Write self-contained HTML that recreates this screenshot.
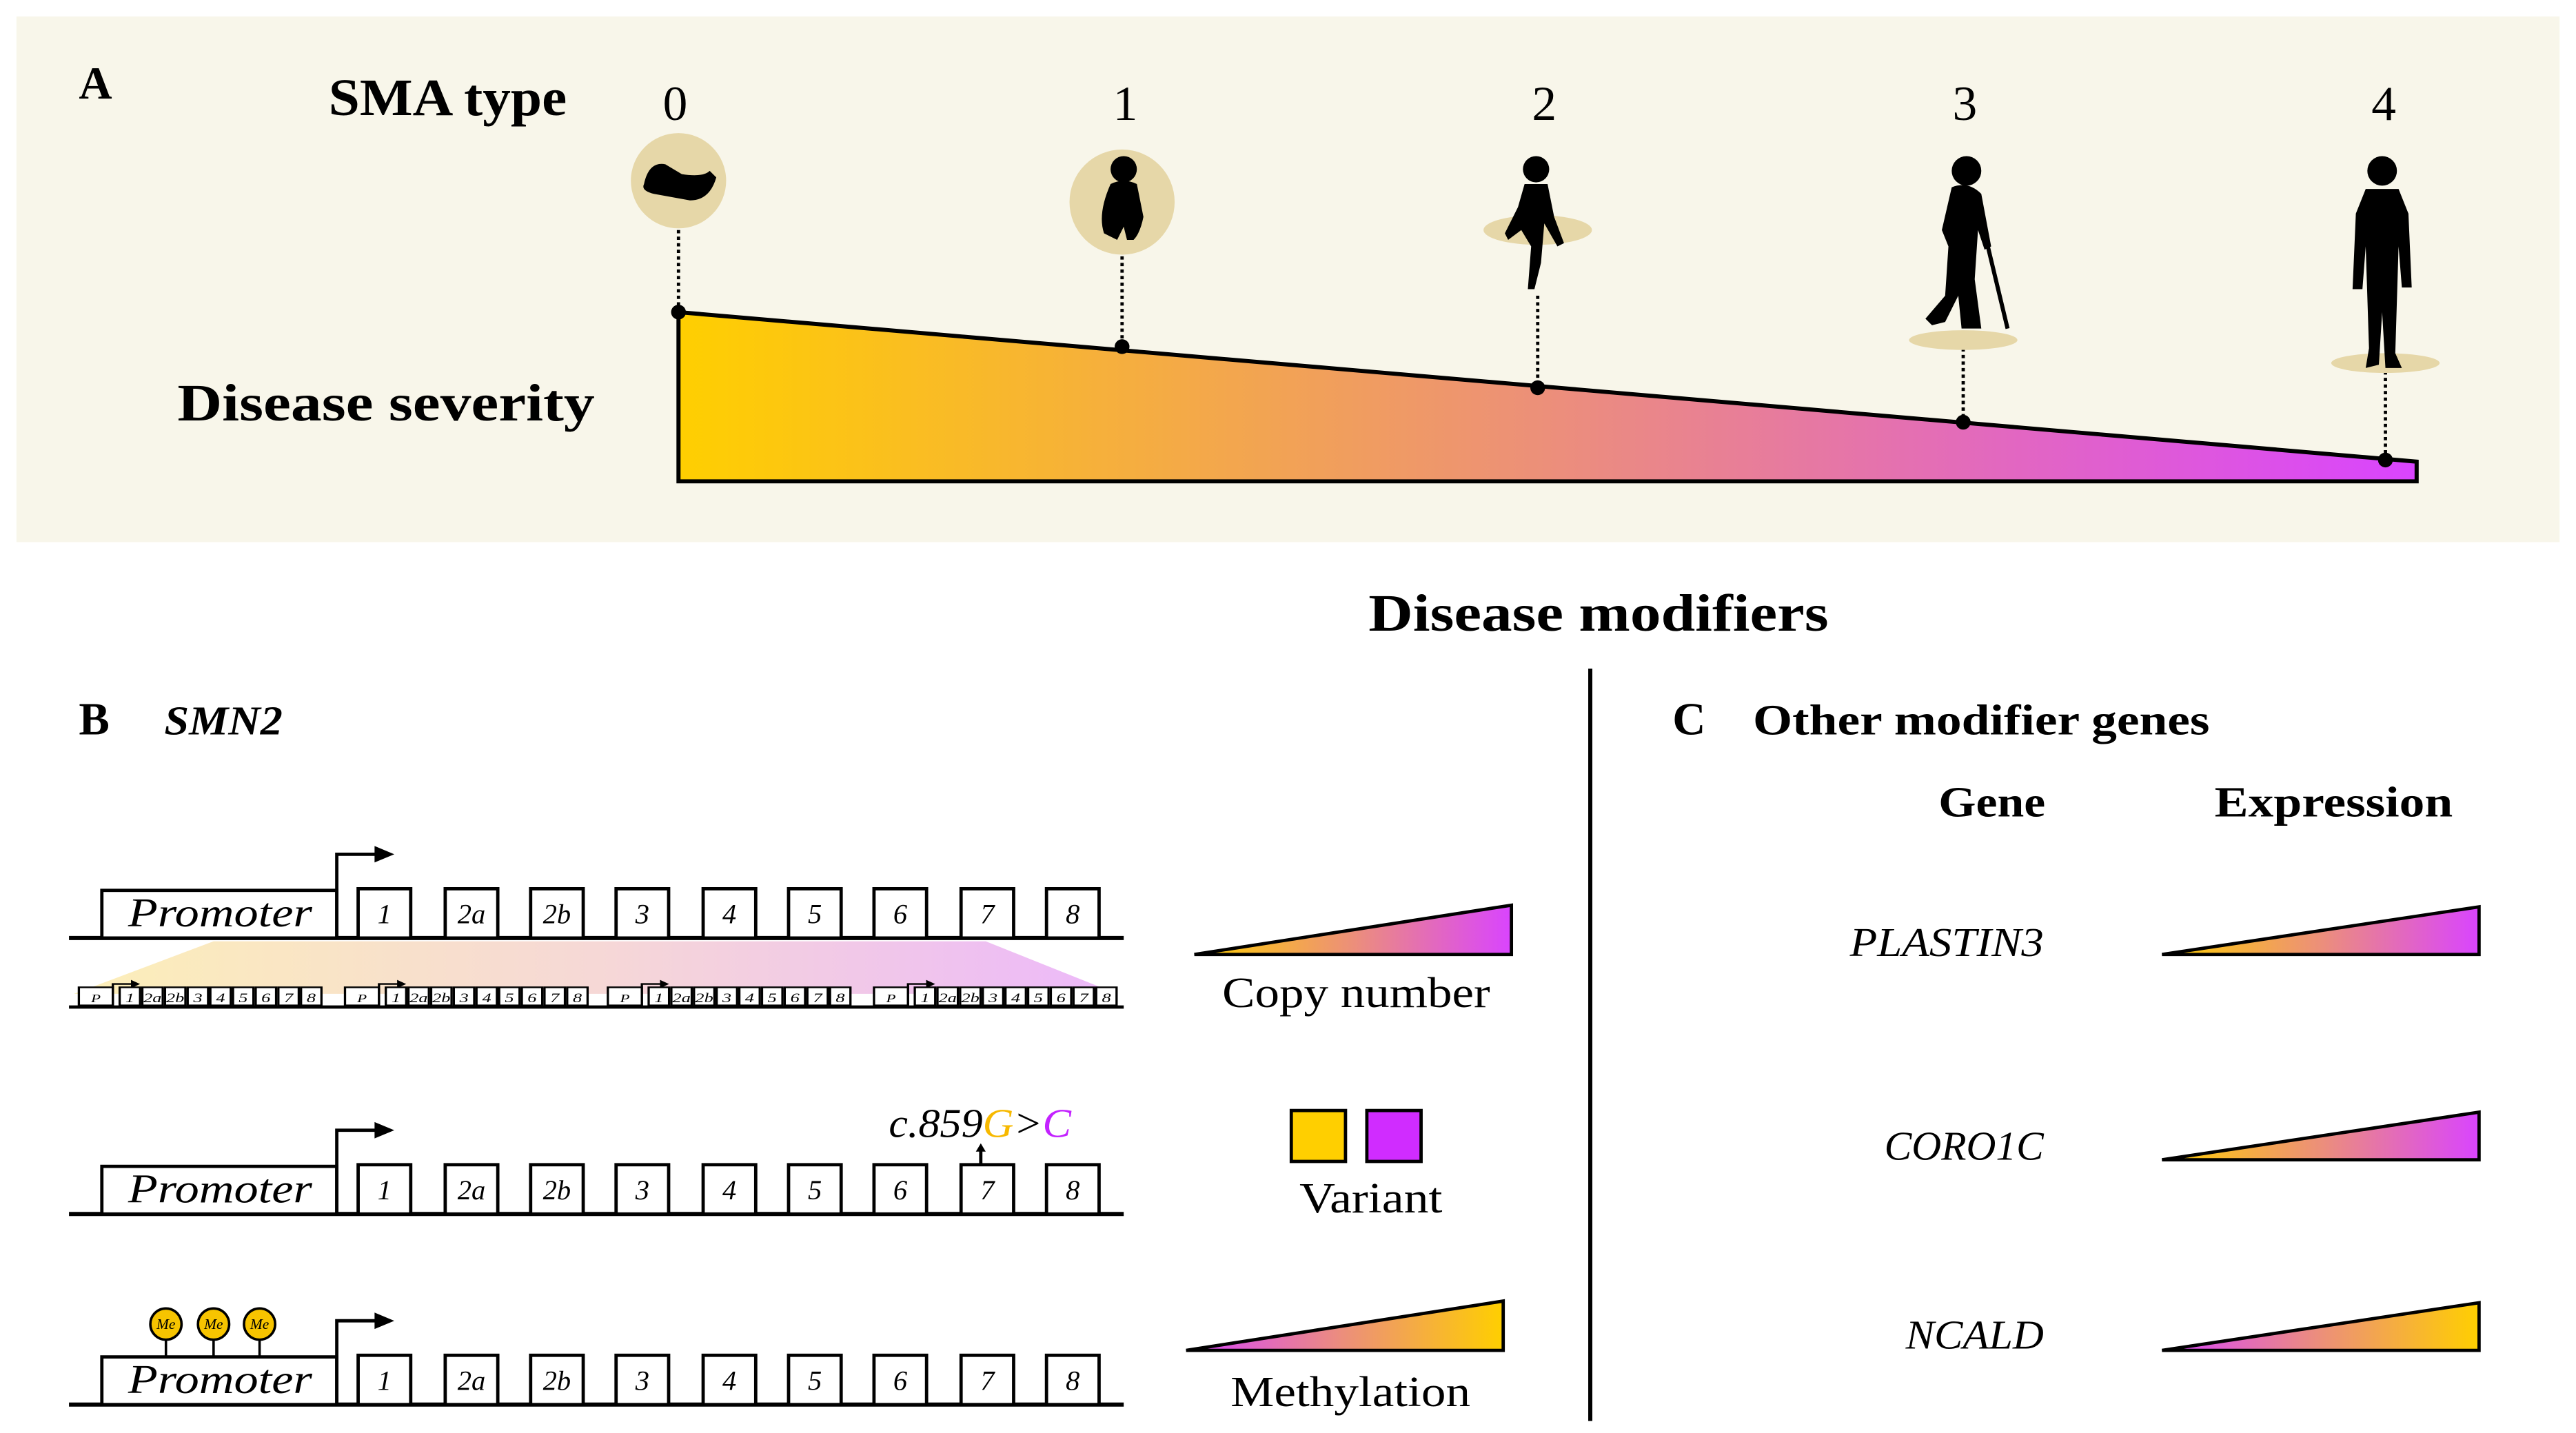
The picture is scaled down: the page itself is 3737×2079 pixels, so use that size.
<!DOCTYPE html>
<html><head><meta charset="utf-8"><style>html,body{margin:0;padding:0;background:#fff}svg{display:block}</style></head>
<body>
<svg width="3737" height="2079" viewBox="0 0 1568 872.3" xmlns="http://www.w3.org/2000/svg" font-family="'Liberation Serif', 'DejaVu Serif', serif">
<defs>
<linearGradient id="gm" x1="0" x2="1" y1="0" y2="0"><stop offset="0" stop-color="#ffcf00"/><stop offset="0.5" stop-color="#ec8f7a"/><stop offset="1" stop-color="#d944ff"/></linearGradient>
<linearGradient id="mg" x1="0" x2="1" y1="0" y2="0"><stop offset="0" stop-color="#d944ff"/><stop offset="0.5" stop-color="#ec8f7a"/><stop offset="1" stop-color="#ffcf00"/></linearGradient>
<linearGradient id="pale" x1="0" x2="1" y1="0" y2="0"><stop offset="0" stop-color="#fcefb8"/><stop offset="0.5" stop-color="#f6d8d6"/><stop offset="1" stop-color="#ecb8fa"/></linearGradient>
<g id="gene">
<line x1="42" y1="29" x2="684" y2="29" stroke="#000" stroke-width="2.5"/>
<rect x="62" y="0" width="143" height="29" fill="#fff" stroke="#000" stroke-width="2"/>
<text x="78" y="22" font-size="25" font-style="italic" textLength="112" lengthAdjust="spacingAndGlyphs">Promoter</text>
<path d="M205,29 V-22 H230" fill="none" stroke="#000" stroke-width="2"/>
<path d="M228,-27 L240,-22 L228,-17 Z" fill="#000"/>
<g fill="#fff" stroke="#000" stroke-width="2">
<rect x="218" y="-1" width="32" height="30"/><rect x="271" y="-1" width="32" height="30"/><rect x="323" y="-1" width="32" height="30"/><rect x="375" y="-1" width="32" height="30"/><rect x="428" y="-1" width="32" height="30"/><rect x="480" y="-1" width="32" height="30"/><rect x="532" y="-1" width="32" height="30"/><rect x="585" y="-1" width="32" height="30"/><rect x="637" y="-1" width="32" height="30"/>
</g>
<g font-size="17" font-style="italic" text-anchor="middle">
<text x="234" y="20">1</text><text x="287" y="20">2a</text><text x="339" y="20">2b</text><text x="391" y="20">3</text><text x="444" y="20">4</text><text x="496" y="20">5</text><text x="548" y="20">6</text><text x="601" y="20">7</text><text x="653" y="20">8</text>
</g>
</g>
<g id="mini">
<rect x="0" y="0" width="15" height="11" fill="#fff" stroke="#000" stroke-width="1"/>
<text x="7.5" y="9" font-size="7" font-style="italic" text-anchor="middle">P</text>
<path d="M15,11 V-2 H24" fill="none" stroke="#000" stroke-width="1"/><path d="M23,-4.5 L27,-2 L23,0.5Z"/>
<g fill="#fff" stroke="#000" stroke-width="1">
<rect x="18" y="0" width="9" height="11"/><rect x="28" y="0" width="9" height="11"/><rect x="38" y="0" width="9" height="11"/><rect x="48" y="0" width="9" height="11"/><rect x="58" y="0" width="9" height="11"/><rect x="68" y="0" width="9" height="11"/><rect x="78" y="0" width="9" height="11"/><rect x="88" y="0" width="9" height="11"/><rect x="98" y="0" width="9" height="11"/>
</g>
<g font-size="8" font-style="italic" text-anchor="middle">
<text x="22.5" y="9">1</text><text x="32.5" y="9">2a</text><text x="42.5" y="9">2b</text><text x="52.5" y="9">3</text><text x="62.5" y="9">4</text><text x="72.5" y="9">5</text><text x="82.5" y="9">6</text><text x="92.5" y="9">7</text><text x="102.5" y="9">8</text>
</g>
</g>
</defs>

<rect x="10" y="10" width="1548" height="320" fill="#f8f6ea"/>
<text x="48" y="60" font-size="28" font-weight="bold">A</text>
<text x="200" y="70" font-size="32" font-weight="bold" textLength="145" lengthAdjust="spacingAndGlyphs">SMA type</text>
<g font-size="30" text-anchor="middle"><text x="411" y="73">0</text><text x="685" y="73">1</text><text x="940" y="73">2</text><text x="1196" y="73">3</text><text x="1451" y="73">4</text></g>
<text x="108" y="256" font-size="32" font-weight="bold" textLength="254" lengthAdjust="spacingAndGlyphs">Disease severity</text>
<polygon points="413,190 1471,281 1471,293 413,293" fill="url(#gm)" stroke="#000" stroke-width="2.5"/>
<g stroke="#000" stroke-width="2" stroke-dasharray="2,2">
<line x1="413" y1="140" x2="413" y2="190"/><line x1="683" y1="152" x2="683" y2="211"/><line x1="936" y1="180" x2="936" y2="236"/><line x1="1195" y1="212" x2="1195" y2="257"/><line x1="1452" y1="226" x2="1452" y2="280"/>
</g>
<g fill="#000"><circle cx="413" cy="190" r="4.5"/><circle cx="683" cy="211" r="4.5"/><circle cx="936" cy="236" r="4.5"/><circle cx="1195" cy="257" r="4.5"/><circle cx="1452" cy="280" r="4.5"/></g>
<g fill="#e6d7a8">
<circle cx="413" cy="110" r="29"/><circle cx="683" cy="123" r="32"/>
<ellipse cx="936" cy="140" rx="33" ry="9"/><ellipse cx="1195" cy="207" rx="33" ry="6"/><ellipse cx="1452" cy="221" rx="33" ry="6"/>
</g>
<g fill="#000">
<path d="M392,112 Q395,98 405,100 L415,106 Q428,108 432,104 L436,108 Q432,122 420,122 L398,118 Q390,116 392,112Z"/>
<circle cx="684" cy="103" r="8"/><path d="M676,112 Q684,108 692,112 L696,132 Q694,142 690,146 L686,146 L684,138 L680,146 L672,142 Q668,130 676,112Z"/>
<circle cx="935" cy="103" r="8"/><path d="M928,112 L942,112 L946,132 L952,148 L948,150 L940,136 L938,160 L934,176 L930,176 L932,150 L926,140 L918,146 L916,142 L924,126Z"/>
<circle cx="1197" cy="104" r="9"/><path d="M1188,114 Q1198,110 1206,118 L1212,150 L1208,152 L1204,140 L1202,170 L1206,200 L1194,200 L1192,180 L1184,196 L1176,198 L1172,194 L1184,180 L1186,150 L1182,140Z"/>
<path d="M1210,150 L1222,200" stroke="#000" stroke-width="2.5"/>
<circle cx="1450" cy="104" r="9"/><path d="M1440,115 L1460,115 L1466,130 L1468,175 L1462,175 L1460,150 L1458,215 L1462,224 L1452,224 L1450,190 L1448,222 L1440,224 L1442,212 L1440,150 L1438,176 L1432,176 L1434,130Z"/>
</g>

<text x="833" y="384" font-size="32" font-weight="bold" textLength="280" lengthAdjust="spacingAndGlyphs">Disease modifiers</text>
<line x1="968" y1="407" x2="968" y2="865" stroke="#000" stroke-width="2.5"/>

<text x="48" y="447" font-size="28" font-weight="bold">B</text>
<text x="100" y="447" font-size="25" font-weight="bold" font-style="italic" textLength="72" lengthAdjust="spacingAndGlyphs">SMN2</text>
<use href="#gene" x="0" y="542"/>
<polygon points="130,573 600,573 680,605 45,605" fill="url(#pale)"/>
<line x1="42" y1="613" x2="684" y2="613" stroke="#000" stroke-width="2"/>
<use href="#mini" transform="translate(48,601) scale(1.38,1)"/><use href="#mini" transform="translate(210,601) scale(1.38,1)"/><use href="#mini" transform="translate(370,601) scale(1.38,1)"/><use href="#mini" transform="translate(532,601) scale(1.38,1)"/>
<use href="#gene" x="0" y="710"/>
<text x="541" y="692" font-size="25" font-style="italic" textLength="111" lengthAdjust="spacingAndGlyphs">c.859<tspan fill="#f7b900">G</tspan>&gt;<tspan fill="#c322ff">C</tspan></text>
<line x1="597" y1="709" x2="597" y2="700" stroke="#000" stroke-width="2"/><path d="M594,701 L597,696 L600,701Z"/>
<use href="#gene" x="0" y="826"/>
<g stroke="#000" stroke-width="1.5"><line x1="101" y1="815" x2="101" y2="826"/><line x1="130" y1="815" x2="130" y2="826"/><line x1="158" y1="815" x2="158" y2="826"/></g>
<g fill="#f7c400" stroke="#000" stroke-width="1.5"><circle cx="101" cy="806" r="9.5"/><circle cx="130" cy="806" r="9.5"/><circle cx="158" cy="806" r="9.5"/></g>
<g font-size="9" font-style="italic" text-anchor="middle"><text x="101" y="809">Me</text><text x="130" y="809">Me</text><text x="158" y="809">Me</text></g>

<polygon points="727,581 920,551 920,581" fill="url(#gm)" stroke="#000" stroke-width="2"/>
<text x="744" y="613" font-size="26" textLength="163" lengthAdjust="spacingAndGlyphs">Copy number</text>
<rect x="786" y="676" width="33" height="31" fill="#ffcf00" stroke="#000" stroke-width="2"/>
<rect x="832" y="676" width="33" height="31" fill="#d02cff" stroke="#000" stroke-width="2"/>
<text x="791" y="738" font-size="26" textLength="87" lengthAdjust="spacingAndGlyphs">Variant</text>
<polygon points="722,822 915,792 915,822" fill="url(#mg)" stroke="#000" stroke-width="2"/>
<text x="749" y="856" font-size="26" textLength="146" lengthAdjust="spacingAndGlyphs">Methylation</text>

<text x="1018" y="447" font-size="28" font-weight="bold">C</text>
<text x="1067" y="447" font-size="26" font-weight="bold" textLength="278" lengthAdjust="spacingAndGlyphs">Other modifier genes</text>
<text x="1180" y="497" font-size="26" font-weight="bold" textLength="65" lengthAdjust="spacingAndGlyphs">Gene</text>
<text x="1348" y="497" font-size="26" font-weight="bold" textLength="145" lengthAdjust="spacingAndGlyphs">Expression</text>
<g font-size="25" font-style="italic">
<text x="1126" y="582" textLength="118" lengthAdjust="spacingAndGlyphs">PLASTIN3</text><text x="1147" y="706" textLength="97" lengthAdjust="spacingAndGlyphs">CORO1C</text><text x="1160" y="821" textLength="84" lengthAdjust="spacingAndGlyphs">NCALD</text>
</g>
<polygon points="1316,581 1509,552 1509,581" fill="url(#gm)" stroke="#000" stroke-width="2"/>
<polygon points="1316,706 1509,677 1509,706" fill="url(#gm)" stroke="#000" stroke-width="2"/>
<polygon points="1316,822 1509,793 1509,822" fill="url(#mg)" stroke="#000" stroke-width="2"/>
</svg>
</body></html>
